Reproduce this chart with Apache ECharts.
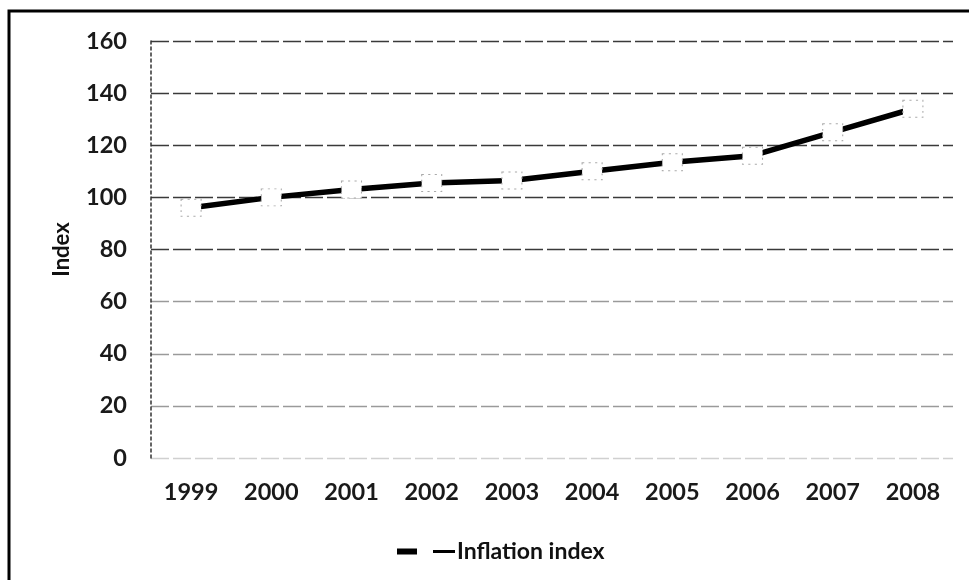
<!DOCTYPE html>
<html>
<head>
<meta charset="utf-8">
<title>Inflation index 1999–2008</title>
<script src="https://cdn.jsdelivr.net/npm/echarts@6/dist/echarts.min.js"></script>
<style>
  html, body { margin: 0; padding: 0; background: #fff; }
  #chart { width: 969px; height: 580px; }
</style>
</head>
<body>
<div id="chart"></div>
<script>
// Years on the category axis
const years = ['1999', '2000', '2001', '2002', '2003', '2004', '2005', '2006', '2007', '2008'];
// Inflation index per year
const inflationIndex = [96, 100, 103, 105.5, 106.5, 110, 113.5, 116, 125, 134];
// Value axis range and step
const yMin = 0;
const yMax = 160;
const yStep = 20;

const FONT = 'Lato, "Open Sans", "DejaVu Sans", sans-serif';

const chart = echarts.init(document.getElementById('chart'), null, { renderer: 'canvas' });

chart.setOption({
  animation: false,
  backgroundColor: '#ffffff',
  textStyle: { fontFamily: FONT },
  graphic: [
    {
      // frame around the chart area (top and left edges)
      type: 'polyline',
      shape: { points: [[9, 590], [9, 11], [975, 11]] },
      style: { stroke: '#000', lineWidth: 3, fill: null },
      silent: true
    }
  ],
  grid: { left: 151, right: 16, top: 41, bottom: 122, containLabel: false },
  legend: {
    top: 535,
    left: 392,
    // thick line stub, gap for the marker, thin marker dash
    icon: 'path://M0,0 H20 V6 H0 Z M36,1.5 H58 V4.5 H36 Z',
    itemWidth: 58,
    itemHeight: 6,
    itemGap: 10,
    textStyle: { fontFamily: FONT, fontSize: 23, fontWeight: 'bold', color: '#111', padding: [0, 0, 0, -3] },
    itemStyle: { color: '#000', borderWidth: 0 },
    data: ['Inflation index']
  },
  xAxis: {
    type: 'category',
    data: years,
    boundaryGap: true,
    axisLine: { show: false },
    axisTick: { show: false },
    axisLabel: {
      margin: 22,
      fontFamily: FONT,
      fontSize: 23.5,
      fontWeight: 'bold',
      color: '#1a1a1a'
    }
  },
  yAxis: {
    type: 'value',
    min: yMin,
    max: yMax,
    interval: yStep,
    name: 'Index',
    nameLocation: 'middle',
    nameGap: 78,
    nameMoveOverlap: false,
    nameRotate: 90,
    nameTextStyle: { fontFamily: FONT, fontSize: 22, fontWeight: 'bold', color: '#111' },
    axisLine: { show: true, lineStyle: { color: '#333', width: 1.5, type: [3, 3] } },
    axisTick: { show: false },
    axisLabel: {
      margin: 24,
      fontFamily: FONT,
      fontSize: 23.5,
      fontWeight: 'bold',
      color: '#1a1a1a'
    },
    splitLine: {
      show: true,
      lineStyle: {
        // lower lines print lighter than the upper ones
        color: ['#d0d0d0', '#9a9a9a', '#9a9a9a', '#9a9a9a', '#3a3a3a', '#3a3a3a', '#3a3a3a', '#3a3a3a', '#3a3a3a'],
        width: 1.3,
        type: [18, 4]
      }
    }
  },
  series: [
    {
      name: 'Inflation index',
      type: 'line',
      data: inflationIndex,
      symbol: 'rect',
      symbolSize: [20, 17],
      showAllSymbol: true,
      lineStyle: { color: '#000', width: 5.5 },
      itemStyle: { color: '#fff', borderColor: '#aaa', borderWidth: 1, borderType: [2, 4] },
      z: 3
    }
  ]
});
</script>
</body>
</html>
